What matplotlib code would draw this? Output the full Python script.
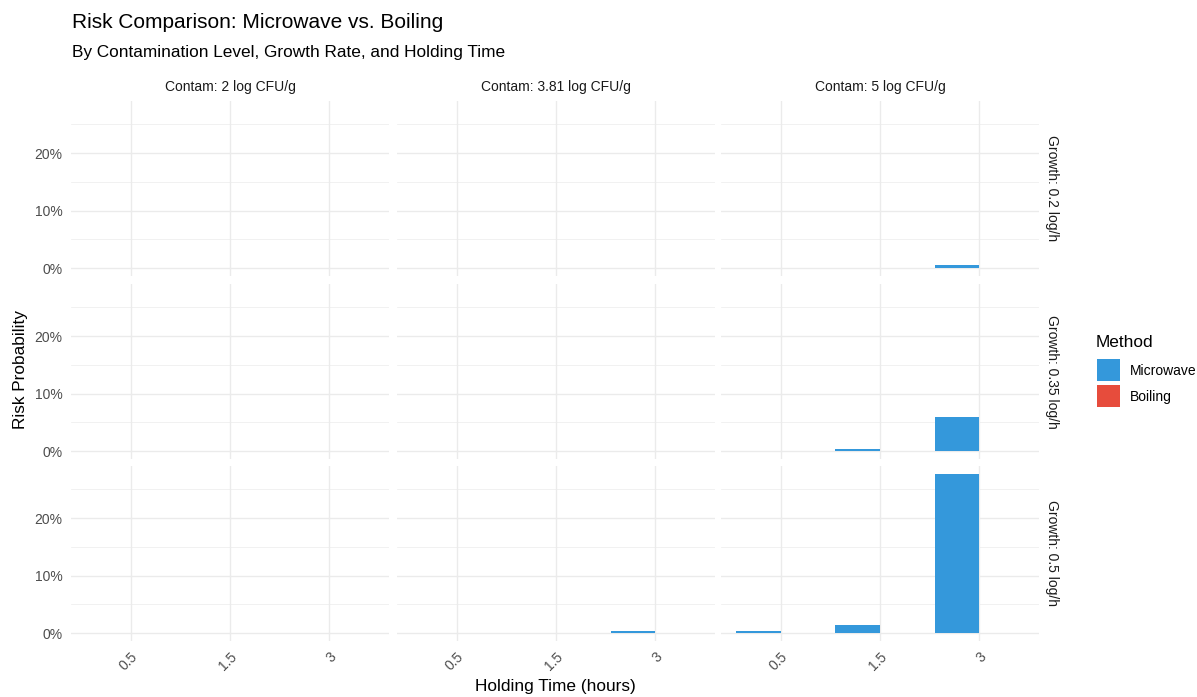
import matplotlib
matplotlib.use("Agg")
import matplotlib.pyplot as plt
from matplotlib.patches import Rectangle
import numpy as np

plt.rcParams['font.family'] = ['Liberation Sans', 'DejaVu Sans']

holding_times = ["0.5", "1.5", "3"]
contam_levels = ["2", "3.81", "5"]
growth_rates = ["0.2", "0.35", "0.5"]
methods = ["Microwave", "Boiling"]
colors = {"Microwave": "#3498DB", "Boiling": "#E74C3C"}

# microwave risk [growth][contam][holding]
microwave_risk = [
    [[0.0, 0.0, 0.0], [0.0, 0.0, 0.0], [0.0, 0.0, 0.006]],
    [[0.0, 0.0, 0.0], [0.0, 0.0, 0.0], [0.0, 0.003, 0.060]],
    [[0.0, 0.0, 0.0], [0.0, 0.0, 0.003], [0.003, 0.0135, 0.277]],
]
boiling_risk = [
    [[0.0, 0.0, 0.0], [0.0, 0.0, 0.0], [0.0, 0.0, 0.0]],
    [[0.0, 0.0, 0.0], [0.0, 0.0, 0.0], [0.0, 0.0, 0.0]],
    [[0.0, 0.0, 0.0], [0.0, 0.0, 0.0], [0.0, 0.0, 0.0]],
]

W, H = 1197, 697
fig = plt.figure(figsize=(W / 100, H / 100), dpi=100)
fig.patch.set_facecolor("white")

def px_axes(x0, y0, w, h):
    return fig.add_axes([x0 / W, 1 - (y0 + h) / H, w / W, h / H])

ymax = max(max(max(r) for r in g) for g in microwave_risk)
ylo, yhi = -0.05 * ymax, ymax * 1.05

col_x = [71, 397, 721]
col_w = 318
row_y = [101, 284, 466]
row_h = 175

grid_c = "#EBEBEB"
x = np.arange(len(holding_times))
bw = 0.45

for r, g in enumerate(growth_rates):
    for c, cl in enumerate(contam_levels):
        ax = px_axes(col_x[c], row_y[r], col_w, row_h)
        ax.set_xlim(-0.6, len(holding_times) - 0.4)
        ax.set_ylim(ylo, yhi)
        for s in ax.spines.values():
            s.set_visible(False)
        ax.set_facecolor("white")
        for yv in [0.05, 0.15, 0.25]:
            ax.axhline(yv, color=grid_c, lw=0.5, zorder=0)
        for yv in [0.0, 0.1, 0.2]:
            ax.axhline(yv, color=grid_c, lw=1.0, zorder=0)
        for xv in x:
            ax.axvline(xv, color=grid_c, lw=1.0, zorder=0)
        ax.bar(x - bw / 2, microwave_risk[r][c], width=bw, color=colors["Microwave"], zorder=2)
        ax.bar(x + bw / 2, boiling_risk[r][c], width=bw, color=colors["Boiling"], zorder=2)
        ax.set_yticks([0.0, 0.1, 0.2])
        ax.set_xticks(x)
        ax.tick_params(length=0, colors="#4D4D4D", labelsize=10)
        ax.tick_params(axis="y", pad=6)
        if c == 0:
            ax.set_yticklabels(["0%", "10%", "20%"])
        else:
            ax.set_yticklabels([])
        if r == 2:
            ax.set_xticklabels(holding_times, rotation=45, ha="right", va="top",
                               rotation_mode="anchor")
            ax.tick_params(axis="x", pad=6)
        else:
            ax.set_xticklabels([])
        if r == 0:
            ax.text(0.5, 1.04, f"Contam: {cl} log CFU/g", transform=ax.transAxes,
                    ha="center", va="bottom", fontsize=10, color="#1A1A1A")
        if c == 2:
            ax.text(1.018, 0.5, f"Growth: {g} log/h", transform=ax.transAxes,
                    ha="left", va="center", rotation=-90, fontsize=10, color="#1A1A1A")

fig.text(72 / W, 1 - 22 / H, "Risk Comparison: Microwave vs. Boiling",
         fontsize=15, color="black", ha="left", va="center")
fig.text(72 / W, 1 - 52 / H, "By Contamination Level, Growth Rate, and Holding Time",
         fontsize=12.4, color="black", ha="left", va="center")
fig.text(555 / W, 1 - 687 / H, "Holding Time (hours)", fontsize=12.4, ha="center", va="center")
fig.text(21 / W, 1 - 370 / H, "Risk Probability", fontsize=12.4, ha="center", va="center",
         rotation=90)

# legend
fig.text(1096 / W, 1 - 342 / H, "Method", fontsize=12.4, ha="left", va="center")
for i, m in enumerate(methods):
    ky = 359 + i * 26
    fig.patches.append(Rectangle((1097 / W, 1 - (ky + 22) / H), 23 / W, 22 / H,
                                 transform=fig.transFigure, facecolor=colors[m],
                                 edgecolor="none"))
    fig.text(1130 / W, 1 - (ky + 12) / H, m, fontsize=10, ha="left", va="center")

fig.savefig("out.png", dpi=100, facecolor="white")
